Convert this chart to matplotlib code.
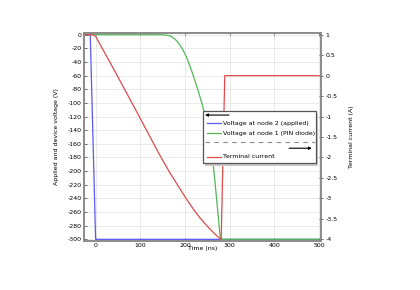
import matplotlib
matplotlib.use("Agg")
import matplotlib.pyplot as plt
from matplotlib.patches import Rectangle
from matplotlib.lines import Line2D
from matplotlib.ticker import FuncFormatter

plt.rcParams['font.family'] = ['DejaVu Sans']
plt.rcParams['axes.unicode_minus'] = False

# Data
t_node2 = [-25, -12, 0, 500]
v_node2 = [0, 0, -300, -300]

t_node1 = [-25, 143, 150, 158, 166, 173, 181, 188, 196, 204, 211, 217, 222, 228, 233,
           238, 242, 248, 253, 258, 263, 267, 271, 275, 278, 280, 290, 500]
v_node1 = [0, 0, -0.2, -0.6, -1.5, -4, -8.7, -14.5, -23, -34, -46, -57, -67, -79, -90,
           -101, -111, -127, -144, -165, -190, -215, -243, -270, -292, -300, -300, -300]

t_current = [-25, -8, -4, 0, 40, 80, 120, 143, 166, 189, 200, 211, 222, 233, 245, 256,
             264, 271, 276, 281, 289, 500]
i_current = [1.0, 1.0, 0.99, 0.96, 0.17, -0.64, -1.46, -1.93, -2.37, -2.77, -2.96, -3.14,
             -3.31, -3.47, -3.62, -3.75, -3.84, -3.91, -3.96, -4.0, 0.0, 0.0]

x_ticks = [0, 100, 200, 300, 400, 500]
yl_ticks = list(range(0, -301, -20))
yr_ticks = [1, 0.5, 0, -0.5, -1, -1.5, -2, -2.5, -3, -3.5, -4]

labels = ["Voltage at node 2 (applied)", "Voltage at node 1 (PIN diode)", "Terminal current"]
c_blue, c_green, c_red = "#5a5af0", "#55b555", "#dd4b4b"
spine_c = "#8a8a8a"
fs = 4.5

fig = plt.figure(figsize=(4.2, 2.9), dpi=100)
ax = fig.add_axes([0.2, 0.170, 0.565, 0.715])
ax2 = ax.twinx()

ax.plot(t_node2, v_node2, color=c_blue, lw=0.9)
ax.plot(t_node1, v_node1, color=c_green, lw=0.9)
ax2.plot(t_current, i_current, color=c_red, lw=0.9)

ax.set_xlim(-26, 505)
ax.set_ylim(-302, 2)
ax2.set_ylim(-4.0333, 1.0333)

ax.set_xticks(x_ticks)
ax.set_yticks(yl_ticks)
ax2.set_yticks(yr_ticks)
ax2.yaxis.set_major_formatter(FuncFormatter(lambda v, p: "%g" % v))

ax.grid(True, color="#e6e6e6", lw=0.6)
ax.set_axisbelow(True)

for a in (ax, ax2):
    for s in a.spines.values():
        s.set_color(spine_c)
        s.set_linewidth(1.2)

ax.tick_params(axis='both', direction='in', length=2.5, width=0.6, color="#555555",
               labelsize=fs, pad=1.5, top=True)
ax2.tick_params(axis='y', direction='inout', length=3, width=0.6, color="#555555",
                labelsize=fs, pad=1.5)

ax.set_xlabel("Time (ns)", fontsize=fs, labelpad=-1)
ax.set_ylabel("Applied and device voltage (V)", fontsize=fs, labelpad=6)
ax2.set_ylabel("Terminal current (A)", fontsize=fs, labelpad=8)

# Legend box (manual, in axes coordinates)
T = ax2.transAxes
bx0, bx1, by0, by1 = 0.500, 0.978, 0.373, 0.625
ax2.add_patch(Rectangle((bx0 + 0.008, by0 - 0.012), bx1 - bx0, by1 - by0, transform=T,
                        facecolor="#c8c8c8", edgecolor="none", zorder=9, clip_on=False))
ax2.add_patch(Rectangle((bx0, by0), bx1 - bx0, by1 - by0, transform=T,
                        facecolor="white", edgecolor="#555555", lw=0.9, zorder=10, clip_on=False))
ax2.annotate("", xy=(0.510, 0.606), xytext=(0.611, 0.606), xycoords=T, textcoords=T,
             arrowprops=dict(arrowstyle="-|>", color="black", lw=0.8, mutation_scale=4,
                             shrinkA=0, shrinkB=0), zorder=11)
for yy, col, lab in [(0.566, c_blue, labels[0]), (0.519, c_green, labels[1]), (0.405, c_red, labels[2])]:
    ax2.add_line(Line2D([0.517, 0.576], [yy, yy], transform=T, color=col, lw=0.9, zorder=11))
    ax2.text(0.585, yy, lab, transform=T, fontsize=fs, va='center', ha='left', zorder=11)
ax2.add_line(Line2D([0.510, 0.973], [0.474, 0.474], transform=T, color="#888888", lw=0.8,
                    ls=(0, (4, 4)), zorder=11))
ax2.annotate("", xy=(0.960, 0.446), xytext=(0.864, 0.446), xycoords=T, textcoords=T,
             arrowprops=dict(arrowstyle="-|>", color="black", lw=0.8, mutation_scale=4,
                             shrinkA=0, shrinkB=0), zorder=11)

fig.savefig("out.png", dpi=100)
